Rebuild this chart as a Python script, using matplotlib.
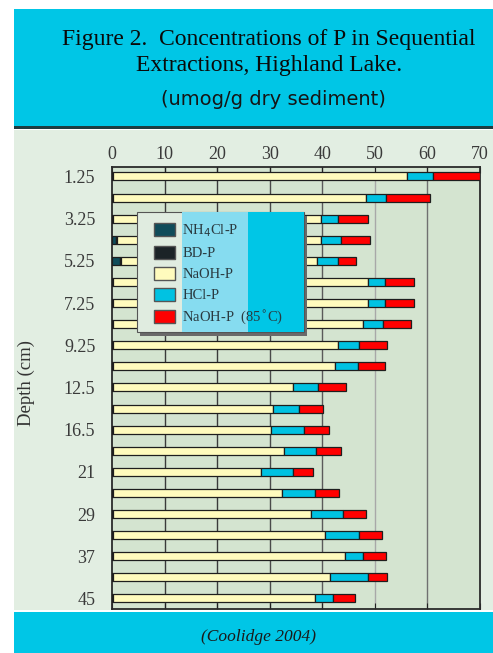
import numpy as np
import matplotlib
matplotlib.use("Agg")
import matplotlib.pyplot as plt
from matplotlib.patches import Rectangle, Patch

# depth of each sediment slice (cm), top to bottom
depth = [1.25, 2.25, 3.25, 4.25, 5.25, 6.25, 7.25, 8.25, 9.25, 10.75,
         12.5, 14.5, 16.5, 18.75, 21, 25, 29, 33, 37, 41, 45]
depth_labels = ['1.25', '3.25', '5.25', '7.25', '9.25', '12.5',
                '16.5', '21', '29', '37', '45']

# P fractions, umol/g dry sediment
nh4cl = [0, 0, 0, 0.8, 1.6, 0, 0, 0, 0, 0, 0, 0, 0, 0, 0, 0, 0, 0, 0, 0, 0]
bd = [0.2, 0.2, 0.2, 0.2, 0.2, 0.2, 0.2, 0.2, 0.2, 0.2, 0.2,
      0.2, 0.2, 0.2, 0.2, 0.2, 0.2, 0.2, 0.2, 0.2, 0.2]
naoh = [55.9, 48.1, 39.6, 38.8, 37.1, 48.5, 48.5, 47.5, 42.8, 42.3, 34.3,
        30.4, 30.1, 32.6, 28.2, 32.1, 37.6, 40.3, 44.2, 41.3, 38.5]
hcl = [4.9, 3.8, 3.1, 3.7, 4.0, 3.3, 3.2, 3.8, 3.9, 4.2, 4.6,
       5.0, 6.2, 6.0, 6.1, 6.4, 6.1, 6.4, 3.3, 7.2, 3.4]
naoh85 = [8.9, 8.4, 5.8, 5.5, 3.6, 5.5, 5.6, 5.3, 5.4, 5.3, 5.4,
          4.5, 4.7, 4.8, 3.8, 4.5, 4.4, 4.5, 4.4, 3.6, 4.2]

series = [nh4cl, bd, naoh, hcl, naoh85]
names = ['NH$_4$Cl-P', 'BD-P', 'NaOH-P', 'HCl-P', 'NaOH-P  (85$^{\\circ}$C)']
colors = ['#0f4c5a', '#1b2327', '#fffbbd', '#00c2e2', '#ff0000']

cyan = '#00c6e6'
panel = '#e2eee2'

fig = plt.figure(figsize=(4.93, 6.53), dpi=100)

# background bands (behind the axes)
fig.patches.append(Rectangle((0.0284, 0.0658), 0.9716, 0.735, transform=fig.transFigure,
                             facecolor=panel, edgecolor='none', zorder=-2))
fig.patches.append(Rectangle((0.0284, 0.8055), 0.9716, 0.181, transform=fig.transFigure,
                             facecolor=cyan, edgecolor='none', zorder=-2))
fig.patches.append(Rectangle((0.0284, 0.8025), 0.9716, 0.004, transform=fig.transFigure,
                             facecolor='#1d3c40', edgecolor='none', zorder=-1))
fig.patches.append(Rectangle((0.0284, 0.0), 0.9716, 0.0628, transform=fig.transFigure,
                             facecolor=cyan, edgecolor='none', zorder=-2))

fig.text(0.546, 0.940, 'Figure 2.  Concentrations of P in Sequential',
         family='Liberation Serif', fontsize=17, ha='center', va='center', color='#0a0a0a')
fig.text(0.546, 0.899, 'Extractions, Highland Lake.',
         family='Liberation Serif', fontsize=17, ha='center', va='center', color='#0a0a0a')
fig.text(0.554, 0.847, '(umog/g dry sediment)',
         family='DejaVu Sans', fontsize=14, ha='center', va='center', color='#151515')
fig.text(0.525, 0.024, '(Coolidge 2004)', family='Liberation Serif', style='italic',
         fontsize=12.5, ha='center', va='center', color='#1a1a1a')
fig.text(0.054, 0.4135, 'Depth (cm)', family='Liberation Serif', fontsize=13.5,
         rotation=90, ha='center', va='center', color='#333333')

ax = fig.add_axes([0.2272, 0.0674, 0.7465, 0.6769])
ax.set_facecolor('#d4e4d0')

y = np.arange(len(depth))
left = np.zeros(len(depth))
for vals, name, col in zip(series, names, colors):
    ax.barh(y, vals, left=left, height=0.38, color=col, edgecolor='#1e1e1e',
            linewidth=0.9, label=name, zorder=3)
    left += np.array(vals)

ax.set_xlim(0, 70)
ax.set_ylim(len(depth) - 0.5, -0.45)
ax.set_xticks(np.arange(0, 71, 10))
ax.set_yticks(y[::2])
ax.set_yticklabels(depth_labels)
ax.tick_params(axis='x', top=True, bottom=True, labeltop=True, labelbottom=False,
               direction='in', length=4, color='#222222', pad=3)
ax.tick_params(axis='y', length=0, pad=12)
for lab in ax.get_xticklabels() + ax.get_yticklabels():
    lab.set_family('Liberation Serif')
    lab.set_fontsize(13)
    lab.set_color('#3a3a3a')
# vertical grid, shades as in the original
grid_x = [10, 20, 30, 40, 50, 60]
grid_c = ['#3a3a3a', '#3a3a3a', '#4a4a4a', '#5a5a5a', '#a8a8a8', '#707070']
for gx, gc in zip(grid_x, grid_c):
    ax.axvline(gx, color=gc, linewidth=1, zorder=1)
for s in ['left', 'top', 'right', 'bottom']:
    ax.spines[s].set_color('#2a2a2a')
    ax.spines[s].set_linewidth(1.3)

# legend with two-tone background and shadow
ax.add_patch(Rectangle((0.075, 0.618), 0.454, 0.272, transform=ax.transAxes,
                       facecolor='#6a6a6a', edgecolor='none', zorder=4))
ax.add_patch(Rectangle((0.068, 0.627), 0.454, 0.271, transform=ax.transAxes,
                       facecolor='#e0ece0', edgecolor='#555555', linewidth=0.8, zorder=4))
ax.add_patch(Rectangle((0.19, 0.627), 0.332, 0.271, transform=ax.transAxes,
                       facecolor='#86dcf0', edgecolor='none', zorder=4))
ax.add_patch(Rectangle((0.37, 0.627), 0.152, 0.271, transform=ax.transAxes,
                       facecolor=cyan, edgecolor='none', zorder=4))
handles = [Patch(facecolor=c, edgecolor='#555555') for c in colors]
leg = ax.legend(handles, names, loc='upper left', bbox_to_anchor=(0.098, 0.888),
                frameon=False, prop={'family': 'Liberation Serif', 'size': 10.5},
                handlelength=1.45, handleheight=1.0, labelspacing=0.45,
                handletextpad=0.5, borderaxespad=0)
leg.set_zorder(6)
for t in leg.get_texts():
    t.set_color('#2a3a40')

fig.savefig('out.png', dpi=100)
